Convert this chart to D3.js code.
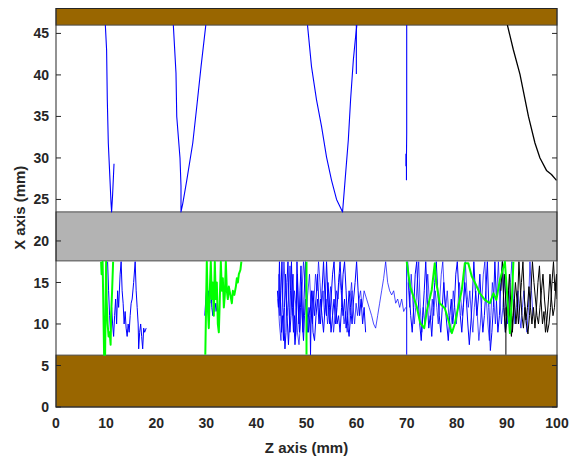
<!DOCTYPE html>
<html><head><meta charset="utf-8">
<script src="https://cdn.jsdelivr.net/npm/d3@7"></script>
<style>body{margin:0;background:#fff}svg{display:block}text{font-family:"Liberation Sans",Arial,sans-serif;font-weight:bold;fill:#262626}</style>
</head><body>
<script>
// axis settings
const xTicks = [0,10,20,30,40,50,60,70,80,90,100];
const yTicks = [0,5,10,15,20,25,30,35,40,45];
const xDomain = [0,100];
const yDomain = [0,48];
// bands [from, to]
const brownBands = [[0,6.25],[46,48]];
const grayBands = [[17.6,23.5]];

// upper blue curves [z, x]
const blueUpper1 = [[9.85,46],[10.1,43],[10.24,37],[10.44,31.8],[10.78,27.3],[10.98,24.6],[11.1,23.5],[11.3,25.6],[11.58,29.3]];
const blueUpper2 = [[23.42,46],[23.95,40.2],[24.1,35],[24.75,30],[24.95,26.6],[24.95,23.5],[25.3,24.5],[26.1,27.3],[27.3,31.8],[28.1,36.2],[28.95,41],[29.9,46]];
const blueUpper3 = [[50.2,46],[51.0,41],[52.0,37],[53.0,33.8],[54.0,30.1],[55.0,27.3],[56.0,25.0],[57.2,23.5],[57.7,27.3],[58.35,32.2],[58.8,37],[59.35,41.8],[59.7,44],[60.05,46]];
const blueUpper3v = [[59.95,40.1],[59.95,46]];
const blueUpper4 = [[70.0,46],[70.0,33],[69.95,30],[69.95,27.3]];
const blueUpper5 = [[69.85,30.5],[69.85,29]];
const blackUpper = [[90.1,46],[91.3,43],[92.6,40.1],[94.3,35],[95.6,31.8],[96.6,30],[97.9,28.5],[98.9,28],[99.9,27.3]];

// lower blue traces
const blueLow1 = [[10.3,17.5],[10.5,14],[10.7,11],[10.9,9],[11.1,12],[11.3,10],[11.5,8.5],[11.7,11],[11.9,13],[12.1,10],[12.3,14],[12.5,12],[12.8,16],[13.0,17.5],[13.2,14],[13.4,12.5],[13.6,10],[13.8,11.5],[14.0,9.5],[14.2,8.5],[14.4,10],[14.6,9],[14.8,11],[15.0,12.5],[15.2,13],[15.5,15],[15.8,17.5],[16.0,14],[16.2,12],[16.4,10],[16.5,7],[16.7,9],[16.9,10],[17.1,8.5],[17.3,7],[17.5,9.5],[17.7,9],[18.0,9.5]];
const blueLow2 = [[29.7,11],[29.9,13],[30.1,14.5],[30.3,12],[30.5,14],[30.7,12.5],[30.9,15],[31.1,12],[31.3,11],[31.5,13],[31.7,11.5],[31.9,12.5],[32.1,11.5]];
const blueLow3a = [[44.2,14],[44.4,12],[44.6,17.5],[44.8,13],[45.0,9],[45.2,11],[45.4,8],[45.6,12],[45.8,16],[46.0,13],[46.2,10],[46.4,7.5],[46.6,10],[46.8,14],[47.0,17.5],[47.2,12],[47.4,9],[47.6,11],[47.8,8.5],[48.0,13],[48.2,16],[48.4,11],[48.6,9],[48.8,12],[49.0,15],[49.2,10],[49.4,8],[49.6,11],[49.8,13],[50.2,9],[50.5,12],[50.7,11],[50.8,6.3],[50.9,10],[51.3,14],[51.6,11],[51.9,13],[52.2,16],[52.5,12],[52.8,10],[53.1,14],[53.4,17.5],[53.7,13],[54.0,11],[54.3,15],[54.6,12],[54.9,9],[55.2,11],[55.5,13],[55.8,10],[56.1,12],[56.4,15],[56.7,17.5],[57.0,14],[57.3,11],[57.6,13],[57.9,9.5],[58.2,11],[58.5,14],[58.8,12],[59.1,10],[59.4,13],[59.7,15],[60.0,17.5],[60.3,14],[60.6,11],[60.9,13],[61.2,10],[61.5,12],[61.8,9]];
const blueLow3b = [[44.5,16],[44.7,11],[44.9,14],[45.1,17.5],[45.3,12],[45.5,10],[45.7,7],[45.9,9],[46.1,15],[46.3,17.5],[46.5,12],[46.7,9],[46.9,11],[47.1,14],[47.3,16],[47.5,10],[47.7,7.5],[47.9,9],[48.1,17.5],[48.3,13],[48.5,10],[48.7,14],[48.9,17],[49.1,12],[49.3,9],[49.5,13],[49.8,17.5],[50.1,12],[50.4,9],[50.7,11],[51.0,14],[51.3,9],[51.6,8],[51.9,11],[52.2,13],[52.5,10],[52.8,13],[53.1,11],[53.4,9],[53.7,12],[54.0,17.5],[54.3,13],[54.6,10],[54.9,13],[55.2,16],[55.5,17.5],[55.8,13],[56.1,10],[56.4,11],[56.7,9],[57.0,12],[57.3,16],[57.6,17.5],[57.9,14],[58.2,10],[58.5,8.5],[58.8,11],[59.1,14]];
const blueLow3c = [[44.3,13],[44.6,10],[44.9,8],[45.2,13],[45.5,17.5],[45.8,14],[46.1,11],[46.4,13],[46.7,17],[47.0,13],[47.3,11],[47.6,14],[47.9,12],[48.2,9],[48.5,7.5],[48.8,10],[49.1,14],[49.4,17.5],[49.7,15],[50.0,12],[50.3,14],[50.6,16],[50.9,12],[51.2,10],[51.5,13],[51.8,16],[52.1,14],[52.4,17.5],[52.7,15],[53.0,12],[53.3,14],[53.6,11],[53.9,13],[54.2,10],[54.5,12],[54.8,14.5],[55.1,12],[55.4,9],[55.7,11],[56.0,14],[56.3,13],[56.6,16],[56.9,14],[57.2,12],[57.5,10],[57.8,11.5],[58.1,9],[58.4,10],[58.7,13],[59.0,15],[59.3,12],[59.6,10],[59.9,12.5],[60.2,11],[60.5,13],[60.8,14],[61.1,12],[61.5,14],[62.0,13],[62.5,12],[63.0,11],[63.4,10],[63.8,9.5],[64.2,11],[64.6,12.5],[65.0,14],[65.4,15.5],[65.8,17.5],[66.2,15],[66.6,14],[67.0,13.5],[67.4,14],[67.8,12.5],[68.2,13],[68.6,12],[69.0,13],[69.4,11.5],[69.8,12]];
const blueLow4v = [[70.0,6.3],[70.0,17.5]];
const blueLow4a = [[70.2,17.5],[70.5,14],[70.8,11],[71.1,9],[71.4,12],[71.7,16],[72.0,17.5],[72.3,13],[72.6,10],[72.9,8],[73.2,11],[73.5,14],[73.8,17.5],[74.1,13],[74.4,9.5],[74.7,11],[75.0,8.5],[75.3,12],[75.6,15],[75.9,17.5],[76.2,14],[76.5,11],[76.8,9],[77.1,12],[77.4,15],[77.7,12],[78.0,10],[78.3,8],[78.6,11],[78.9,13],[79.2,10],[79.5,12],[79.8,16],[80.1,17.5],[80.4,14],[80.7,11],[81.0,9],[81.3,12],[81.6,15],[81.9,13],[82.2,10],[82.5,7.5],[82.8,10],[83.1,13],[83.4,17.5],[83.7,14],[84.0,11],[84.3,13],[84.6,16],[84.9,12],[85.2,9],[85.5,11],[85.8,14],[86.1,17.5],[86.4,12],[86.7,6.8],[87.0,9],[87.3,12],[87.6,17.5],[87.9,13],[88.2,9],[88.5,11],[88.8,15],[89.1,17.5],[89.4,12],[89.7,9],[90.0,11]];
const blueLow4b = [[70.3,15],[70.6,12],[70.9,16],[71.2,13],[71.5,10],[71.8,12],[72.1,15],[72.4,17.5],[72.7,12],[73.0,9],[73.3,12],[73.6,10],[73.9,13],[74.2,16],[74.5,13],[74.8,10.5],[75.1,13],[75.4,11],[75.7,14],[76.0,12],[76.3,10],[76.6,13],[76.9,16],[77.2,17.5],[77.5,14],[77.8,12],[78.1,14],[78.4,11],[78.7,9],[79.0,11],[79.3,14],[79.6,12],[79.9,10],[80.2,12],[80.5,15],[80.8,13],[81.1,11],[81.4,13],[81.7,17.5],[82.0,14],[82.3,12],[82.6,14],[82.9,11],[83.2,9],[83.5,12],[83.8,14],[84.1,11],[84.4,8],[84.7,10],[85.0,13],[85.3,16],[85.6,17.5],[85.9,13],[86.2,10],[86.5,8],[86.8,11],[87.1,15],[87.4,13],[87.7,10],[88.0,14],[88.3,17.5],[88.6,13],[88.9,10],[89.2,12],[89.5,16],[89.8,13],[90.1,10],[90.4,12],[90.7,15],[91.0,17.5],[91.3,13],[91.6,10],[91.9,12],[92.2,14],[92.5,11],[92.8,9.5],[93.1,12],[93.4,14],[93.7,11],[94.0,9],[94.3,12],[94.6,17.5],[94.9,14],[95.2,11]];

// lower green traces
const greenLow1 = [[9.0,17.5],[9.1,16],[9.3,17.5],[9.4,14],[9.5,10],[9.6,6.3],[9.7,7],[9.8,6.3],[9.9,12],[10.0,17.5],[10.1,13],[10.3,10],[10.5,8.5],[10.7,9],[10.9,7.5],[11.0,11],[11.2,14],[11.4,17.5]];
const greenLow2 = [[29.8,6.3],[29.9,10],[30.0,14],[30.1,17.5],[30.3,12],[30.5,9.5],[30.7,14],[30.9,17.5],[31.1,13],[31.3,15],[31.5,11],[31.7,17.5],[31.9,13],[32.1,15],[32.3,10],[32.5,9],[32.7,13],[32.9,17.5],[33.1,14],[33.3,15.5],[33.5,12],[33.7,13.5],[33.9,17.5],[34.1,14],[34.3,13],[34.5,14.5],[34.8,13.5],[35.1,12.5],[35.3,14],[35.6,13.5],[35.9,14.5],[36.1,15.5],[36.3,15],[36.5,16],[36.8,16.5],[37.0,17.5]];
const greenLow3 = [[50.0,6.3],[50.0,17.5]];
const greenLow4 = [[70.0,17.5],[70.7,14.5],[72.0,12.1],[72.7,10.1],[73.5,9.5],[74.0,11.5],[75.0,14.1],[75.6,17.3],[75.9,15],[76.6,12.5],[77.6,11.9],[78.3,10.5],[79.0,8.9],[79.6,10],[80.3,12.1],[81.0,14.1],[81.6,17.3],[82.3,17.3],[83.0,15.7],[83.6,15],[84.6,13.7],[85.6,12.9],[86.6,12.5],[87.3,13.7],[87.9,12.9],[88.6,15.3],[89.6,17.5],[90.3,11.3],[90.6,8.9],[91.0,13],[91.3,17.5]];

// lower black traces
const blackLowV = [[89.8,6.3],[89.8,12]];
const blackLow1 = [[88.8,14],[89.1,17.5],[89.4,12],[89.7,9],[90.0,11],[90.3,14],[90.6,10],[90.9,8.5],[91.2,11],[91.5,13],[91.8,10],[92.1,12],[92.4,17.5],[92.7,14],[93.0,11],[93.3,9.5],[93.6,12],[93.9,10],[94.2,8.8],[94.5,11],[94.8,14],[95.1,17.5],[95.4,15],[95.7,13],[96.0,11],[96.3,10],[96.6,12],[96.9,14],[97.2,16],[97.5,13],[97.8,11],[98.1,9],[98.4,10],[98.7,12],[99.0,15],[99.3,17.5],[99.6,14],[99.9,16],[100,13]];
const blackLow2 = [[89.5,16],[89.9,11],[90.2,13],[90.5,16],[90.8,12],[91.1,9],[91.4,12],[91.7,15],[92.0,13],[92.3,10],[92.6,12.5],[92.9,15],[93.2,17.5],[93.5,13],[93.8,10.5],[94.1,12],[94.4,14.5],[94.7,12],[95.0,10],[95.3,12],[95.6,9.5],[95.9,12],[96.2,15],[96.5,17],[96.8,13],[97.1,10],[97.4,11.5],[97.7,9],[98.0,10.5],[98.3,13],[98.6,16],[98.9,13],[99.2,11],[99.5,12],[99.8,15]];

const W = 569, H = 457;
const m = {left:56, right:12, top:8.5, bottom:50};
const svg = d3.select("body").append("svg").attr("width",W).attr("height",H);
const x = d3.scaleLinear().domain(xDomain).range([m.left, W-m.right]);
const y = d3.scaleLinear().domain(yDomain).range([H-m.bottom, m.top]);
const pw = W-m.right-m.left, ph = H-m.bottom-m.top;

svg.append("defs").append("clipPath").attr("id","clip").append("rect")
  .attr("x",m.left).attr("y",m.top).attr("width",pw).attr("height",ph);

// bands
const bands = svg.append("g");
function band(b, fill){
  bands.append("rect").attr("x",x(0)).attr("width",x(100)-x(0))
    .attr("y",y(b[1])).attr("height",y(b[0])-y(b[1]))
    .attr("fill",fill).attr("stroke","#4d4d4d").attr("stroke-width",1);
}
brownBands.forEach(b=>band(b,"#996600"));
grayBands.forEach(b=>band(b,"#b3b3b3"));

const line = d3.line().x(d=>x(d[0])).y(d=>y(d[1]));
const lines = svg.append("g").attr("clip-path","url(#clip)").attr("fill","none").attr("stroke-linejoin","round");
function draw(data, color, w, op){
  lines.append("path").datum(data).attr("d",line).attr("stroke",color).attr("stroke-width",w).attr("stroke-opacity",op||1);
}
[blueUpper1,blueUpper2,blueUpper3,blueUpper3v,blueUpper4,blueUpper5].forEach(d=>draw(d,"#0000ff",1.1));
draw(blackUpper,"#000000",1.3);
draw(blueLow3c,"#0000ff",1,0.7);
draw(blueLow4b,"#0000ff",1,0.7);
[blueLow1,blueLow2,blueLow3a,blueLow3b,blueLow4v,blueLow4a].forEach(d=>draw(d,"#0000ff",1));
[blackLow1,blackLow2,blackLowV].forEach(d=>draw(d,"#000000",1));
[greenLow1,greenLow2,greenLow3,greenLow4].forEach(d=>draw(d,"#00ff00",2));

// axes box
const ax = svg.append("g");
ax.append("rect").attr("x",m.left).attr("y",m.top).attr("width",pw).attr("height",ph)
  .attr("fill","none").attr("stroke","#262626").attr("stroke-width",1);
const tl = 5;
yTicks.forEach(t=>{
  ax.append("line").attr("x1",x(0)).attr("x2",x(0)+tl).attr("y1",y(t)).attr("y2",y(t)).attr("stroke","#262626");
  ax.append("line").attr("x1",x(100)).attr("x2",x(100)-tl).attr("y1",y(t)).attr("y2",y(t)).attr("stroke","#262626");
  ax.append("text").attr("x",x(0)-7).attr("y",y(t)).attr("dy","0.36em").attr("text-anchor","end").attr("font-size",14).text(t);
});
xTicks.forEach(t=>{
  ax.append("text").attr("x",x(t)).attr("y",y(0)+21).attr("text-anchor","middle").attr("font-size",14).text(t);
});
svg.append("text").attr("x",(m.left+W-m.right)/2).attr("y",453).attr("text-anchor","middle").attr("font-size",15).text("Z axis (mm)");
svg.append("text").attr("transform",`translate(25,${(m.top+H-m.bottom)/2}) rotate(-90)`).attr("text-anchor","middle").attr("font-size",15).text("X axis (mm)");
</script>
</body></html>
